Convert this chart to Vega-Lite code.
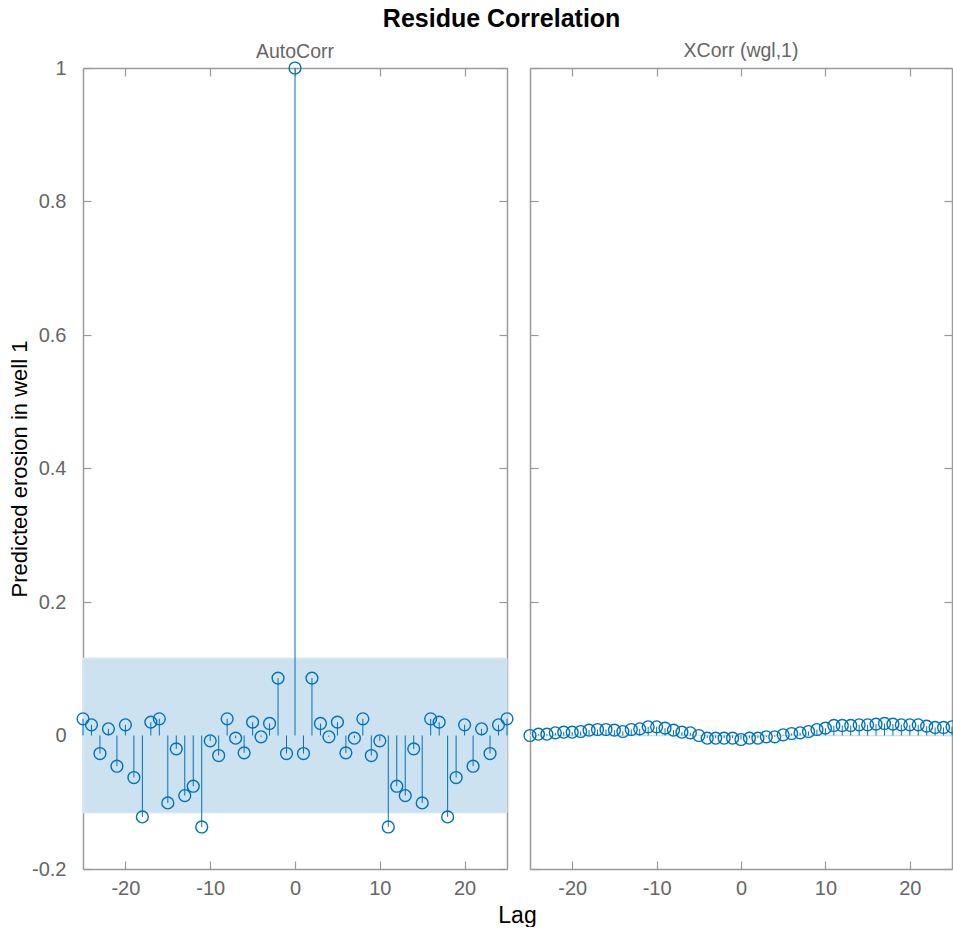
{
  "$schema": "https://vega.github.io/schema/vega-lite/v6.json",
  "background": "white",
  "padding": {"left": 8, "top": 6, "right": 0, "bottom": 0},
  "bounds": "flush",
  "title": {"text": "Residue Correlation", "fontSize": 25, "fontWeight": "bold", "color": "black", "font": "Liberation Sans", "anchor": "middle", "offset": 9, "dx": 17},
  "config": {
    "font": "Liberation Sans",
    "view": {"stroke": null},
    "axis": {"grid": false, "domainColor": "#9a9a9a", "domainWidth": 1.5, "tickColor": "#9a9a9a", "tickWidth": 1.2, "labelColor": "#666666", "labelFontSize": 20, "labelFont": "Liberation Sans", "titleFont": "Liberation Sans"}
  },
  "datasets": {
    "ac": [
      {"lag": -25, "r": 0.025}, {"lag": -24, "r": 0.016}, {"lag": -23, "r": -0.027}, {"lag": -22, "r": 0.01}, {"lag": -21, "r": -0.046},
      {"lag": -20, "r": 0.016}, {"lag": -19, "r": -0.063}, {"lag": -18, "r": -0.122}, {"lag": -17, "r": 0.02}, {"lag": -16, "r": 0.025},
      {"lag": -15, "r": -0.101}, {"lag": -14, "r": -0.02}, {"lag": -13, "r": -0.09}, {"lag": -12, "r": -0.076}, {"lag": -11, "r": -0.137},
      {"lag": -10, "r": -0.008}, {"lag": -9, "r": -0.03}, {"lag": -8, "r": 0.025}, {"lag": -7, "r": -0.004}, {"lag": -6, "r": -0.026},
      {"lag": -5, "r": 0.02}, {"lag": -4, "r": -0.002}, {"lag": -3, "r": 0.018}, {"lag": -2, "r": 0.086}, {"lag": -1, "r": -0.027},
      {"lag": 0, "r": 1},
      {"lag": 1, "r": -0.027}, {"lag": 2, "r": 0.086}, {"lag": 3, "r": 0.018}, {"lag": 4, "r": -0.002}, {"lag": 5, "r": 0.02},
      {"lag": 6, "r": -0.026}, {"lag": 7, "r": -0.004}, {"lag": 8, "r": 0.025}, {"lag": 9, "r": -0.03}, {"lag": 10, "r": -0.008},
      {"lag": 11, "r": -0.137}, {"lag": 12, "r": -0.076}, {"lag": 13, "r": -0.09}, {"lag": 14, "r": -0.02}, {"lag": 15, "r": -0.101},
      {"lag": 16, "r": 0.025}, {"lag": 17, "r": 0.02}, {"lag": 18, "r": -0.122}, {"lag": 19, "r": -0.063}, {"lag": 20, "r": 0.016},
      {"lag": 21, "r": -0.046}, {"lag": 22, "r": 0.01}, {"lag": 23, "r": -0.027}, {"lag": 24, "r": 0.016}, {"lag": 25, "r": 0.025}
    ],
    "xc": [
      {"lag": -25, "r": 0.0}, {"lag": -24, "r": 0.002}, {"lag": -23, "r": 0.002}, {"lag": -22, "r": 0.004}, {"lag": -21, "r": 0.005},
      {"lag": -20, "r": 0.005}, {"lag": -19, "r": 0.006}, {"lag": -18, "r": 0.008}, {"lag": -17, "r": 0.009}, {"lag": -16, "r": 0.009},
      {"lag": -15, "r": 0.008}, {"lag": -14, "r": 0.006}, {"lag": -13, "r": 0.009}, {"lag": -12, "r": 0.01}, {"lag": -11, "r": 0.013},
      {"lag": -10, "r": 0.013}, {"lag": -9, "r": 0.011}, {"lag": -8, "r": 0.008}, {"lag": -7, "r": 0.005}, {"lag": -6, "r": 0.004},
      {"lag": -5, "r": 0.0}, {"lag": -4, "r": -0.004}, {"lag": -3, "r": -0.004}, {"lag": -2, "r": -0.004}, {"lag": -1, "r": -0.004},
      {"lag": 0, "r": -0.006},
      {"lag": 1, "r": -0.004}, {"lag": 2, "r": -0.004}, {"lag": 3, "r": -0.002}, {"lag": 4, "r": -0.002}, {"lag": 5, "r": 0.001},
      {"lag": 6, "r": 0.003}, {"lag": 7, "r": 0.004}, {"lag": 8, "r": 0.006}, {"lag": 9, "r": 0.009}, {"lag": 10, "r": 0.011},
      {"lag": 11, "r": 0.015}, {"lag": 12, "r": 0.015}, {"lag": 13, "r": 0.015}, {"lag": 14, "r": 0.016}, {"lag": 15, "r": 0.016},
      {"lag": 16, "r": 0.017}, {"lag": 17, "r": 0.018}, {"lag": 18, "r": 0.017}, {"lag": 19, "r": 0.016}, {"lag": 20, "r": 0.016},
      {"lag": 21, "r": 0.016}, {"lag": 22, "r": 0.014}, {"lag": 23, "r": 0.012}, {"lag": 24, "r": 0.012}, {"lag": 25, "r": 0.013}
    ],
    "bandA": [{"x1": -25, "x2": 25, "lo": -0.116, "hi": 0.116}],
    "bandX": [{"x1": -25, "x2": 25, "lo": -0.001, "hi": 0.001}]
  },
  "spacing": 23,
  "hconcat": [
    {
      "width": 424,
      "height": 801,
      "title": {"text": "AutoCorr", "color": "#666666", "fontSize": 19.5, "fontWeight": "normal", "offset": -4},
      "resolve": {"axis": {"x": "independent", "y": "independent"}},
      "layer": [
        {
          "data": {"name": "bandA"},
          "mark": {"type": "rect", "fill": "#cde2f1", "stroke": "#dbeaf5", "strokeWidth": 1},
          "encoding": {
            "x": {"field": "x1", "type": "quantitative", "scale": {"domain": [-25, 25], "nice": false, "zero": false},
              "axis": {"orient": "bottom", "values": [-20, -10, 0, 10, 20], "labelExpr": "'' + datum.value", "tickSize": -8, "labelPadding": 17, "title": "Lag", "titleX": 434, "titleFontSize": 23, "titleFontWeight": "normal", "titleColor": "black", "titlePadding": 6}},
            "x2": {"field": "x2"},
            "y": {"field": "lo", "type": "quantitative", "scale": {"domain": [-0.2, 1], "nice": false, "zero": false},
              "axis": {"orient": "left", "values": [-0.2, 0, 0.2, 0.4, 0.6, 0.8, 1], "labelExpr": "'' + datum.value", "tickSize": -8, "labelPadding": 25, "title": "Predicted erosion in well 1", "titleFontSize": 22, "titleFontWeight": "normal", "titleColor": "black", "titlePadding": 0}},
            "y2": {"field": "hi"}
          }
        },
        {
          "data": {"name": "ac"},
          "mark": {"type": "rule", "color": "#0072BD", "strokeWidth": 1},
          "encoding": {
            "x": {"field": "lag", "type": "quantitative", "axis": {"orient": "top", "values": [-20, -10, 0, 10, 20], "labels": false, "tickSize": -8, "title": null, "minExtent": 0, "maxExtent": 0}},
            "y": {"field": "r", "type": "quantitative", "axis": {"orient": "right", "values": [-0.2, 0, 0.2, 0.4, 0.6, 0.8, 1], "labels": false, "tickSize": -8, "title": null, "minExtent": 0, "maxExtent": 0}},
            "y2": {"datum": 0}
          }
        },
        {
          "data": {"name": "ac"},
          "mark": {"type": "point", "shape": "circle", "filled": false, "color": "#0072BD", "size": 140, "strokeWidth": 1.4, "opacity": 1},
          "encoding": {
            "x": {"field": "lag", "type": "quantitative", "axis": null},
            "y": {"field": "r", "type": "quantitative", "axis": null}
          }
        }
      ]
    },
    {
      "width": 422,
      "height": 801,
      "title": {"text": "XCorr (wgl,1)", "color": "#666666", "fontSize": 19.5, "fontWeight": "normal", "offset": 6},
      "resolve": {"axis": {"x": "independent", "y": "independent"}},
      "layer": [
        {
          "data": {"name": "bandX"},
          "mark": {"type": "rect", "fill": "#cde2f1"},
          "encoding": {
            "x": {"field": "x1", "type": "quantitative", "scale": {"domain": [-25, 25], "nice": false, "zero": false},
              "axis": {"orient": "bottom", "values": [-20, -10, 0, 10, 20], "labelExpr": "'' + datum.value", "tickSize": -8, "labelPadding": 17, "title": null}},
            "x2": {"field": "x2"},
            "y": {"field": "lo", "type": "quantitative", "scale": {"domain": [-0.2, 1], "nice": false, "zero": false},
              "axis": {"orient": "left", "values": [-0.2, 0, 0.2, 0.4, 0.6, 0.8, 1], "labels": false, "tickSize": -8, "title": null, "minExtent": 0, "maxExtent": 0}},
            "y2": {"field": "hi"}
          }
        },
        {
          "data": {"name": "xc"},
          "mark": {"type": "rule", "color": "#0072BD", "strokeWidth": 1},
          "encoding": {
            "x": {"field": "lag", "type": "quantitative", "axis": {"orient": "top", "values": [-20, -10, 0, 10, 20], "labels": false, "tickSize": -8, "title": null, "minExtent": 0, "maxExtent": 0}},
            "y": {"field": "r", "type": "quantitative", "axis": {"orient": "right", "values": [-0.2, 0, 0.2, 0.4, 0.6, 0.8, 1], "labels": false, "tickSize": -8, "title": null, "minExtent": 0, "maxExtent": 0}},
            "y2": {"datum": 0}
          }
        },
        {
          "data": {"name": "xc"},
          "mark": {"type": "point", "shape": "circle", "filled": false, "color": "#0072BD", "size": 140, "strokeWidth": 1.4, "opacity": 1},
          "encoding": {
            "x": {"field": "lag", "type": "quantitative", "axis": null},
            "y": {"field": "r", "type": "quantitative", "axis": null}
          }
        }
      ]
    }
  ]
}
